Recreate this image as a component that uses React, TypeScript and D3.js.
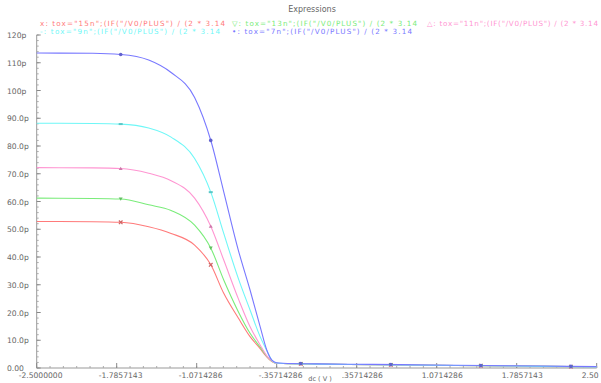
import React from 'react';
import * as d3 from 'd3';

// sweep points (V) shared by every curve
const sweep = [-2.5, -2.0, -1.75, -1.5, -1.3, -1.09, -0.944, -0.83, -0.7, -0.595, -0.505, -0.446, -0.4, -0.36, -0.3, 0, 0.5, 1.0, 1.5, 2.0, 2.5];

// values in pico units
const tox7 = [113.5, 113.4, 113.0, 111.0, 106.5, 97.5, 81.8, 63.5, 42.5, 28.1, 14.9, 6.5, 2.8, 1.9, 1.7, 1.5, 1.3, 1.1, 0.9, 0.7, 0.5];
const tox9 = [88.2, 88.1, 87.9, 86.5, 83.2, 75.5, 63.2, 48.5, 32.3, 20.9, 11.3, 6.3, 2.8, 1.8, 1.6, 1.4, 1.2, 1.0, 0.8, 0.6, 0.4];
const tox11 = [72.2, 72.1, 71.9, 70.2, 67.5, 61.2, 50.9, 38.9, 25.0, 14.9, 8.3, 4.4, 2.5, 1.7, 1.6, 1.4, 1.2, 1.0, 0.8, 0.6, 0.4];
const tox13 = [61.2, 61.1, 60.9, 58.8, 56.8, 51.5, 43.1, 31.7, 20.3, 12.5, 7.5, 4.2, 2.4, 1.7, 1.6, 1.4, 1.2, 1.0, 0.8, 0.6, 0.4];
const tox15 = [52.8, 52.7, 52.5, 50.9, 48.5, 44.3, 37.1, 26.9, 18.0, 11.3, 7.0, 4.0, 2.3, 1.7, 1.6, 1.4, 1.2, 1.0, 0.8, 0.6, 0.4];

const markerV = [-1.75, -0.946, -0.142, 0.662, 1.466, 2.27];

const xTicks = [-2.5, -1.7857143, -1.0714286, -0.35714286, 0.35714286, 1.0714286, 1.7857143, 2.5];
const xTickLabels = ['-2.5000000', '-1.7857143', '-1.0714286', '-.35714286', '.35714286', '1.0714286', '1.7857143', '2.50'];
const yTicks = [0, 10, 20, 30, 40, 50, 60, 70, 80, 90, 100, 110, 120];
const yTickLabels = ['0.00', '10.0p', '20.0p', '30.0p', '40.0p', '50.0p', '60.0p', '70.0p', '80.0p', '90.0p', '100p', '110p', '120p'];

const seriesNames = ['15n', '13n', '11n', '9n', '7n'];
const seriesValues = [tox15, tox13, tox11, tox9, tox7];
const colors = ['#ff7a7a', '#7aec7a', '#ff96d2', '#6ff7f7', '#7878ff'];
const symbols = ['x', '▽', '△', '-', '•'];

const x = d3.scaleLinear().domain([-2.5, 2.5]).range([36.7, 596.7]);
const y = d3.scaleLinear().domain([0, 120]).range([368, 35]);

const line = d3.line<[number, number]>()
  .x(d => x(d[0]))
  .y(d => y(d[1]))
  .curve(d3.curveMonotoneX);

const valueAt = (vals: number[], v: number) => {
  const i = Math.max(1, d3.bisectLeft(sweep, v));
  const t = (v - sweep[i - 1]) / (sweep[i] - sweep[i - 1]);
  return vals[i - 1] + t * (vals[i] - vals[i - 1]);
};

const Marker: React.FC<{ k: number; cx: number; cy: number; color: string }> = ({ k, cx, cy, color }) => {
  if (k === 0) {
    return <path d={`M${cx - 1.8},${cy - 1.8}L${cx + 1.8},${cy + 1.8}M${cx - 1.8},${cy + 1.8}L${cx + 1.8},${cy - 1.8}`} stroke={color} strokeWidth={1.2} />;
  }
  if (k === 1) {
    return <path d={`M${cx - 2},${cy - 1.5}L${cx + 2},${cy - 1.5}L${cx},${cy + 1.8}Z`} fill={color} />;
  }
  if (k === 2) {
    return <path d={`M${cx - 2},${cy + 1.5}L${cx + 2},${cy + 1.5}L${cx},${cy - 1.8}Z`} fill={color} />;
  }
  if (k === 3) {
    return <rect x={cx - 2} y={cy - 1} width={4} height={2} fill={color} />;
  }
  return <circle cx={cx} cy={cy} r={1.8} fill={color} />;
};

export default function App() {
  const xMinor = d3.range(0, 43).map(i => -2.5 + i * (5 / 42));
  const yMinor = d3.range(0, 61).map(i => i * 2);
  const legendPos = [[40, 25.5], [232, 25.5], [427, 25.5], [40, 34], [232, 34]];
  const legendLen = [185, 185, 171, 180, 180];

  return (
    <svg width={601} height={383} style={{ position: 'absolute', left: 0, top: 0, background: '#fff' }}
      fontFamily="DejaVu Sans, sans-serif">
      <text x={312} y={12} textAnchor="middle" fontSize={8} fill="#666">Expressions</text>

      {seriesNames.map((n, i) => (
        <text key={n} x={legendPos[i][0]} y={legendPos[i][1]} fontSize={7.2} fill={colors[i]}
          textLength={legendLen[i]} lengthAdjust="spacing">
          {`${symbols[i]}: tox="${n}";(IF("/V0/PLUS") / (2 * 3.14`}
        </text>
      ))}

      {/* axes */}
      <line x1={x(-2.5)} x2={x(-2.5)} y1={y(120)} y2={y(0)} stroke="#999" strokeWidth={1} />
      <line x1={x(-2.5)} x2={x(2.5)} y1={y(0)} y2={y(0)} stroke="#999" strokeWidth={1} />
      {xMinor.map((v, i) => (
        <line key={'xm' + i} x1={x(v)} x2={x(v)} y1={y(0)} y2={y(0) - 2} stroke="#aaa" />
      ))}
      {xTicks.map(v => (
        <line key={'xt' + v} x1={x(v)} x2={x(v)} y1={y(0)} y2={y(0) - 5} stroke="#888" />
      ))}
      {yMinor.map(v => (
        <line key={'ym' + v} x1={x(-2.5)} x2={x(-2.5) + 2} y1={y(v)} y2={y(v)} stroke="#aaa" />
      ))}
      {yTicks.map(v => (
        <line key={'yt' + v} x1={x(-2.5)} x2={x(-2.5) + 4} y1={y(v)} y2={y(v)} stroke="#888" />
      ))}
      {xTicks.map((v, i) => (
        <text key={'xl' + v} x={x(v) - 15 - (xTickLabels[i].startsWith('-') ? 3 : 0)} y={377.5}
          fontSize={7.6} fill="#666">{xTickLabels[i]}</text>
      ))}
      {yTicks.map((v, i) => (
        <text key={'yl' + v} x={7} y={y(v) + 3} fontSize={7.6} fill="#666">{yTickLabels[i]}</text>
      ))}
      <text x={320} y={381} textAnchor="middle" fontSize={6.5} fill="#666">dc ( V )</text>

      {/* curves */}
      {seriesValues.map((vals, i) => (
        <path key={'s' + i} d={line(sweep.map((v, j) => [v, vals[j]] as [number, number])) || ''}
          fill="none" stroke={colors[i]} strokeWidth={1.1} />
      ))}
      {seriesValues.map((vals, i) => (
        <g key={'m' + i}>
          {markerV.map(v => (
            <Marker key={v} k={i} cx={x(v)} cy={y(valueAt(vals, v))} color={d3.color(colors[i])!.darker(0.6).toString()} />
          ))}
        </g>
      ))}
    </svg>
  );
}
